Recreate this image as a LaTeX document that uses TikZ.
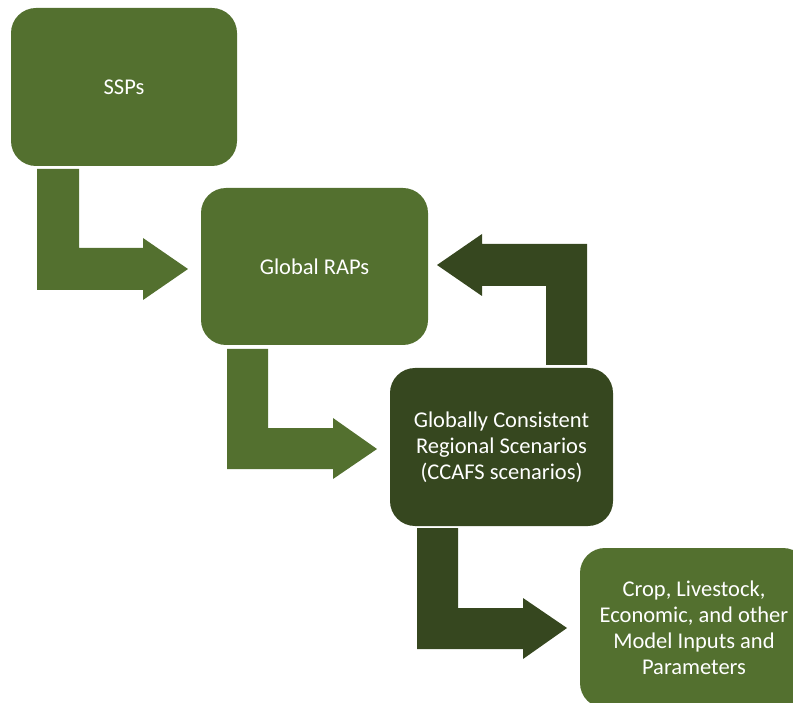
\documentclass[tikz,border=0pt]{standalone}
\usepackage{fontspec}
\setmainfont{Carlito}
\definecolor{lightg}{RGB}{83,112,47}
\definecolor{darkg}{RGB}{54,71,31}
\begin{document}
\begin{tikzpicture}[x=1pt,y=-1pt,
  box/.style={rectangle,rounded corners=25pt,inner sep=0pt,align=center,
    text=white,font=\fontsize{22.5}{26}\selectfont,minimum width=226pt,minimum height=158pt},
  lbox/.style={box,fill=lightg},
  dbox/.style={box,fill=darkg}]
\useasboundingbox (0,0) rectangle (793,703);
\begin{scope}
\clip (0,0) rectangle (793,703);
\node[lbox] (ssp) at (124,87) {SSPs};
\node[lbox,minimum width=227pt,minimum height=157pt] (rap) at (314.5,266.5) {Global RAPs};
\node[dbox,minimum width=223pt] (gcrs) at (501.5,447) {Globally Consistent\\Regional Scenarios\\(CCAFS scenarios)};
\node[lbox,minimum width=228pt,minimum height=160pt] (crop) at (694,628) {Crop, Livestock,\\Economic, and other\\Model Inputs and\\Parameters};
\end{scope}
% bent arrows
\fill[lightg] (37,169) -- (79,169) -- (79,248) -- (143,248) -- (143,238) -- (188,269) -- (143,300) -- (143,290) -- (37,290) -- cycle;
\fill[lightg] (227,349) -- (268,349) -- (268,428) -- (333,428) -- (333,418) -- (377,449) -- (333,479) -- (333,469) -- (227,469) -- cycle;
\fill[darkg] (587,365) -- (546,365) -- (546,286) -- (482,286) -- (482,296) -- (437,265) -- (482,234) -- (482,244) -- (587,244) -- cycle;
\fill[darkg] (417,528) -- (458,528) -- (458,608) -- (523,608) -- (523,598) -- (567,628) -- (523,659) -- (523,649) -- (417,649) -- cycle;
\end{tikzpicture}
\end{document}
